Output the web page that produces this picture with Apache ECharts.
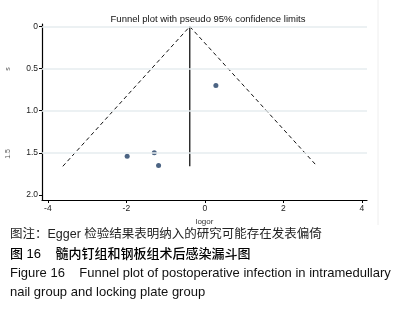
<!DOCTYPE html>
<html>
<head>
<meta charset="utf-8">
<script src="https://cdn.jsdelivr.net/npm/echarts@6/dist/echarts.min.js"></script>
<style>
  html, body { margin: 0; padding: 0; background: #fff; }
  #myChart { width: 399px; height: 311px; }
</style>
</head>
<body>
<div id="myChart"></div>
<script>
  // studies: logor, s.e. of logor
  const studyLogor = [-1.98, -1.29, -1.18, 0.28];
  const studySe = [1.54, 1.50, 1.65, 0.70];

  // pseudo 95% confidence limits and pooled estimate
  const funnelX = [-3.62, -0.385, 2.86];
  const funnelY = [1.66, 0, 1.66];
  const pooledX = [-0.385, -0.385];
  const pooledY = [0, 1.66];

  const xTicks = [-4, -2, 0, 2, 4];
  const yTicks = [0, 0.5, 1, 1.5, 2];

  const myChart = echarts.init(document.getElementById('myChart'));
  const sans = 'Liberation Sans, Arial, sans-serif';
  const cjk = 'Liberation Sans, Noto Sans CJK SC, sans-serif';

  myChart.setOption({
    animation: false,
    title: {
      text: 'Funnel plot with pseudo 95% confidence limits',
      left: 203,
      top: 9,
      textAlign: 'center',
      textStyle: { fontFamily: sans, fontSize: 9.5, fontWeight: 'normal', color: '#111' }
    },
    grid: { left: 42, right: 32, top: 24, bottom: 111 },
    xAxis: {
      type: 'value',
      position: 'bottom',
      min: -4.15,
      max: 4.13,
      name: 'logor',
      nameLocation: 'middle',
      nameGap: 8,
      nameTextStyle: { fontFamily: sans, fontSize: 8, color: '#333', padding: [4, 0, 0, 0] },
      axisLine: { show: true, onZero: false, lineStyle: { color: '#000', width: 1.2 } },
      axisTick: { show: true, length: 3, customValues: xTicks, lineStyle: { color: '#000' } },
      axisLabel: { customValues: xTicks, fontFamily: sans, fontSize: 8.5, color: '#222', margin: 4 },
      splitLine: { show: false }
    },
    yAxis: {
      type: 'value',
      position: 'left',
      inverse: true,
      min: -0.03,
      max: 2.06,
      axisLine: { show: true, onZero: false, lineStyle: { color: '#000', width: 1.2 } },
      axisTick: { show: true, length: 3, customValues: yTicks, lineStyle: { color: '#000' } },
      axisLabel: {
        customValues: yTicks,
        fontFamily: sans, fontSize: 8.5, color: '#222', margin: 4,
        formatter: v => v === 0 ? '0' : v.toFixed(1)
      },
      splitLine: { show: false }
    },
    series: [
      {
        type: 'line',
        data: yTicks.slice(0, 4).map(v => [-4.15, v]),
        symbol: 'none',
        lineStyle: { opacity: 0 },
        silent: true,
        markLine: {
          symbol: 'none',
          silent: true,
          label: { show: false },
          lineStyle: { color: '#e6ecef', type: 'solid', width: 1.5 },
          data: yTicks.slice(0, 4).map(v => ({ yAxis: v }))
        }
      },
      {
        type: 'line',
        data: funnelX.map((x, i) => [x, funnelY[i]]),
        symbol: 'none',
        lineStyle: { color: '#111', width: 1, type: [4, 3] }
      },
      {
        type: 'line',
        data: pooledX.map((x, i) => [x, pooledY[i]]),
        symbol: 'none',
        lineStyle: { color: '#000', width: 1.2 }
      },
      {
        type: 'scatter',
        data: studyLogor.map((x, i) => [x, studySe[i]]),
        symbolSize: 5,
        itemStyle: { color: '#1f3d64' }
      }
    ],
    graphic: [
      { type: 'line', shape: { x1: 378, y1: 0, x2: 378, y2: 225 }, style: { stroke: '#eeeeee', lineWidth: 1 } },
      { type: 'text', x: 8, y: 69, rotation: Math.PI / 2, style: { text: 's', fontFamily: sans, fontSize: 7, fill: '#555', align: 'center', verticalAlign: 'middle' } },
      { type: 'text', x: 8, y: 154, rotation: Math.PI / 2, style: { text: '1.5', fontFamily: sans, fontSize: 7, fill: '#555', align: 'center', verticalAlign: 'middle' } },
      { type: 'text', x: 10, y: 235, style: { text: '图注：Egger 检验结果表明纳入的研究可能存在发表偏倚', fontFamily: cjk, fontSize: 12.5, fill: '#222', verticalAlign: 'middle' } },
      { type: 'text', x: 10, y: 254, style: { text: '图 16    髓内钉组和钢板组术后感染漏斗图', fontFamily: cjk, fontSize: 13, fontWeight: 500, fill: '#000', verticalAlign: 'middle' } },
      { type: 'text', x: 10, y: 273, style: { text: 'Figure 16    Funnel plot of postoperative infection in intramedullary', fontFamily: sans, fontSize: 13, fill: '#111', verticalAlign: 'middle' } },
      { type: 'text', x: 10, y: 292, style: { text: 'nail group and locking plate group', fontFamily: sans, fontSize: 13, fill: '#111', verticalAlign: 'middle' } }
    ]
  });
</script>
</body>
</html>
